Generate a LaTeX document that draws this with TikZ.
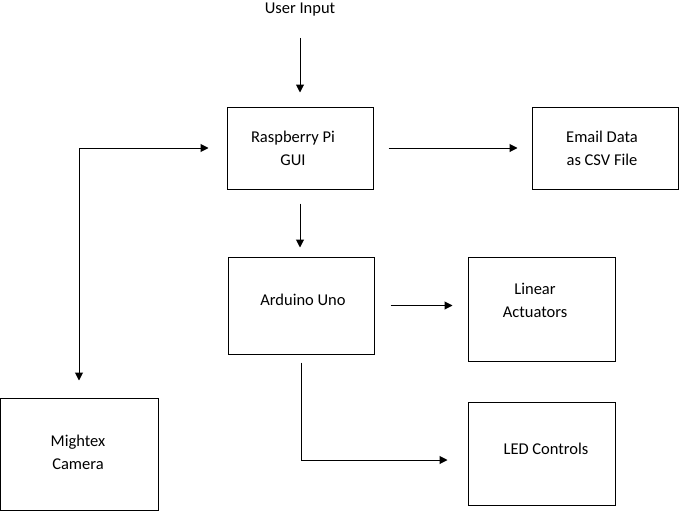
\documentclass[tikz,border=0pt]{standalone}
\usepackage{fontspec}
\setmainfont{Carlito}
\usetikzlibrary{arrows.meta}

\begin{document}
\begin{tikzpicture}[x=1pt, y=-1pt,
  box/.style={draw, line width=1pt, inner sep=0pt},
  txt/.style={inner sep=0pt, align=center, font=\fontsize{16.5}{23}\selectfont},
  flow/.style={line width=1pt, -{Triangle[length=8pt,width=8pt]}}]
\useasboundingbox (0,0) rectangle (679,511);
% blocks
\node[box, minimum width=146pt, minimum height=82pt] (rpi) at (300,148) {};
\node[box, minimum width=146pt, minimum height=82pt] (mail) at (605,148) {};
\node[box, minimum width=146pt, minimum height=97pt] (ard) at (301,305.5) {};
\node[box, minimum width=147pt, minimum height=104pt] (lin) at (541.5,309) {};
\node[box, minimum width=147pt, minimum height=103pt] (led) at (541.5,453.5) {};
\node[box, minimum width=158pt, minimum height=112pt] (cam) at (79,454) {};
% texts
\node[txt] (inp) at (300,10) {User Input};
\node[txt] (rpitxt) at (293,148.5) {Raspberry Pi\\GUI};
\node[txt] (mailtxt) at (602,148.5) {Email Data\\as CSV File};
\node[txt] (ardtxt) at (303,300) {Arduino Uno};
\node[txt] (lintxt) at (535,300) {Linear\\Actuators};
\node[txt] (ledtxt) at (546,449) {LED Controls};
\node[txt] (camtxt) at (78,452.5) {Mightex\\Camera};
% connectors
\draw[flow, shorten <=21pt, shorten >=14pt] (inp) -- (rpi);
\draw[flow, shorten <=15pt, shorten >=14pt] (rpi) -- (mail);
\draw[flow, shorten <=14pt, shorten >=9pt] (rpi.south) -- (rpi.south |- ard.north);
\draw[flow, shorten <=16pt, shorten >=15pt] (ard.east) -- (ard.east -| lin.west);
\draw[flow, shorten <=8pt, shorten >=20pt] (ard.south) |- ([yshift=-6.5pt]led.west);
\draw[flow, {Triangle[length=8pt,width=8pt]}-{Triangle[length=8pt,width=8pt]}, shorten <=18pt, shorten >=17pt] (rpi.west) -| (cam.north);
\end{tikzpicture}
\end{document}
